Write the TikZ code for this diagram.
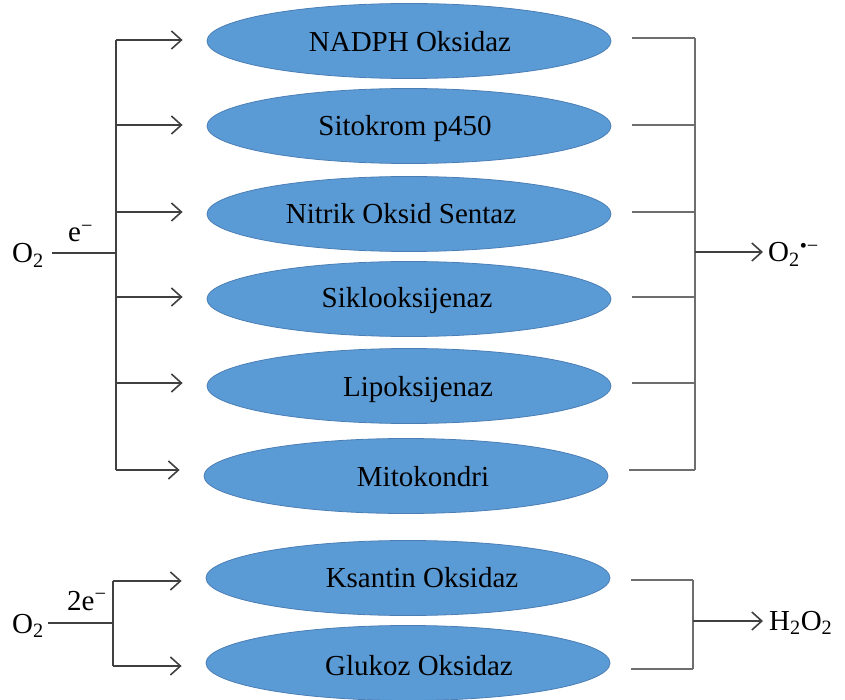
\documentclass[tikz,border=0pt]{standalone}
\usepackage{fontspec}
\setmainfont{Liberation Serif}
\usetikzlibrary{shapes.geometric,arrows.meta}
\definecolor{enzfill}{HTML}{5B9BD5}
\definecolor{enzline}{HTML}{4A7EB5}
\definecolor{darkline}{HTML}{404040}
\definecolor{greyline}{HTML}{6E6E6E}
\tikzset{
 enz/.style={ellipse, fill=enzfill, draw=enzline, line width=0.8pt, minimum width=404pt, minimum height=75pt, inner sep=0},
 lbl/.style={anchor=base, inner sep=0, font=\fontsize{29}{34}\selectfont},
 chem/.style={anchor=base west, inner sep=0, font=\fontsize{29}{34}\selectfont},
 feed/.style={draw=darkline, line width=1.6pt},
 arr/.style={feed, -{Straight Barb[length=10pt,width=18pt,line width=1.6pt]}},
 coll/.style={draw=greyline, line width=2.4pt},
}
\begin{document}
\begin{tikzpicture}[x=1pt,y=-1pt]
\useasboundingbox (0,0) rectangle (845,700);
% enzymes
\node[enz] (e1) at (409,41) {};
\node[enz] (e2) at (409,126) {};
\node[enz] (e3) at (409,214) {};
\node[enz] (e4) at (409,299) {};
\node[enz] (e5) at (409,386) {};
\node[enz] (e6) at (406,476) {};
\node[enz] (e7) at (408,578) {};
\node[enz] (e8) at (408,663) {};
\node[lbl] (t1) at (410,52) {NADPH Oksidaz};
\node[lbl] (t2) at (405,136) {Sitokrom p450};
\node[lbl] (t3) at (401,224) {Nitrik Oksid Sentaz};
\node[lbl] (t4) at (407,308) {Siklooksijenaz};
\node[lbl] (t5) at (418,396) {Lipoksijenaz};
\node[lbl] (t6) at (423,486) {Mitokondri};
\node[lbl] (t7) at (422,587) {Ksantin Oksidaz};
\node[lbl] (t8) at (419,675) {Glukoz Oksidaz};
% chemical labels
\node[chem] (o2a) at (12,263) {O\textsubscript{2}};
\node[chem] (ea) at (68,242) {e\textsuperscript{\char"2212}};
\node[chem] (o2b) at (768,262) {O\textsubscript{2}\textsuperscript{\char"2022\char"2212}};
\node[chem] (o2c) at (12,633) {O\textsubscript{2}};
\node[chem] (eb) at (67,610) {2e\textsuperscript{\char"2212}};
\node[chem] (h2o2) at (769,630) {H\textsubscript{2}O\textsubscript{2}};
% upper group coordinates
\coordinate (la1) at (116,40);
\coordinate (la2) at (116,125);
\coordinate (la3) at (116,212);
\coordinate (la4) at (116,297);
\coordinate (la5) at (116,383);
\coordinate (la6) at (116,470);
\coordinate (ra1) at (695,38);
\coordinate (ra2) at (695,125);
\coordinate (ra3) at (695,212);
\coordinate (ra4) at (695,297);
\coordinate (ra5) at (695,383);
\coordinate (ra6) at (695,470);
\coordinate (lj) at (116,253);
\coordinate (rj) at (695,252);
% lower group coordinates
\coordinate (la7) at (113,581);
\coordinate (la8) at (113,666);
\coordinate (ra7) at (693,580);
\coordinate (ra8) at (693,669);
\coordinate (lj2) at (113,623);
\coordinate (rj2) at (693,621);
% upper feed
\draw[feed] (la1) -- (la6);
\draw[feed] ([xshift=8pt]o2a.east |- lj) -- (lj);
\foreach \i in {1,...,6}{
  \draw[arr, shorten >=24pt] (la\i) -- (la\i -| e\i.west);
  \draw[coll, shorten <=21pt] (ra\i -| e\i.east) -- (ra\i);
}
\draw[coll, line cap=square] (ra1) -- (ra6);
\draw[arr, shorten >=5pt] (rj) -- (o2b.west |- rj);
% lower feed
\draw[feed] (la7) -- (la8);
\draw[feed] ([xshift=4pt]o2c.east |- lj2) -- (lj2);
\foreach \i in {7,8}{
  \draw[arr, shorten >=24pt] (la\i) -- (la\i -| e\i.west);
  \draw[coll, shorten <=21pt] (ra\i -| e\i.east) -- (ra\i);
}
\draw[coll, line cap=square] (ra7) -- (ra8);
\draw[arr, shorten >=6pt] (rj2) -- (h2o2.west |- rj2);
\end{tikzpicture}
\end{document}
